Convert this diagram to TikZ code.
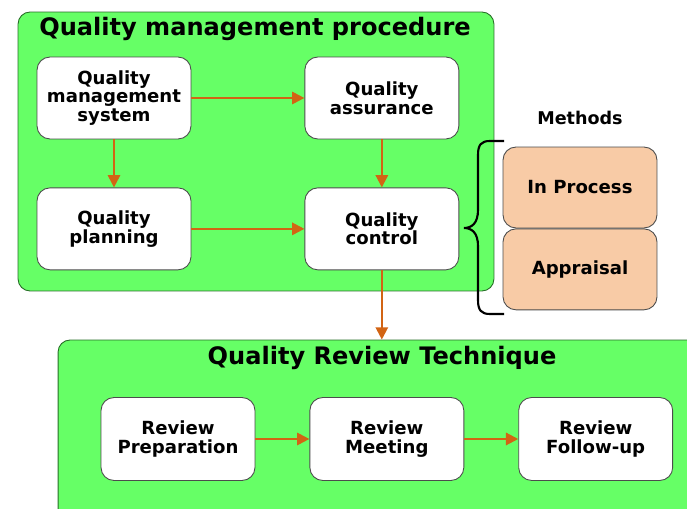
\documentclass[tikz,border=0pt]{standalone}
\usepackage{fontspec}
\setmainfont{DejaVu Sans}
\usepackage{tikz}
\usetikzlibrary{positioning, arrows.meta}
\usepackage{xcolor}
\definecolor{panelgreen}{RGB}{102,255,102}
\definecolor{paneledge}{RGB}{40,110,40}
\definecolor{peach}{RGB}{248,203,166}
\definecolor{floworange}{RGB}{210,100,20}

\begin{document}
\begin{tikzpicture}[
    x=0.02cm, y=-0.02cm,
    node distance=1cm,
    panel/.style={rectangle, draw=paneledge, fill=panelgreen, rounded corners=0.24cm, line width=0.5pt},
    paneltitle/.style={font=\fontsize{13.7}{15}\selectfont\bfseries},
    qbox/.style={rectangle, draw=black!70, fill=white, rounded corners=0.26cm, align=center, font=\fontsize{10.3}{10.6}\selectfont\bfseries, minimum width=3.08cm, minimum height=1.64cm, line width=0.5pt},
    mbox/.style={qbox, fill=peach, minimum height=1.62cm},
    flow/.style={-{Triangle[length=7pt, width=7pt]}, draw=floworange, fill=floworange, line width=1.2pt}
]
    \clip (0,0) rectangle (687,509);

    % Panels
    \node[panel, minimum width=9.52cm, minimum height=5.58cm] (mpanel) at (256,151.5) {};
    \node[panel, minimum width=13.24cm, minimum height=4cm] (rpanel) at (389,440) {};
    \node[paneltitle] (mtitle) at (255,29) {Quality management procedure};
    \node[paneltitle] (rtitle) at (382,358) {Quality Review Technique};

    % Quality management procedure
    \node[qbox] (qms) at (114,98) {Quality\\management\\system};
    \node[qbox, right=2.26cm of qms] (qa) {Quality\\assurance};
    \node[qbox, below=0.96cm of qms] (qp) {Quality\\planning};
    \node[qbox, below=0.96cm of qa] (qc) {Quality\\control};

    % Methods
    \node[font=\fontsize{10}{12}\selectfont\bfseries] (methods) at (580,118) {Methods};
    \node[mbox] (inproc) at (580,187.5) {In Process};
    \node[mbox, below=0cm of inproc] (appr) {Appraisal};
    \draw[line width=1.2pt]
        (504,141) -- (490,141) .. controls (481,141) and (478,145) .. (478,155)
        -- (478,210) .. controls (478,223) and (472,228) .. (464,228)
        .. controls (472,228) and (478,233) .. (478,246)
        -- (478,300) .. controls (478,310) and (481,314) .. (490,314) -- (504,314);

    % Quality Review Technique
    \node[qbox, minimum height=1.66cm] (rprep) at (178,439) {Review\\Preparation};
    \node[qbox, minimum height=1.66cm, right=1.08cm of rprep] (rmeet) {Review\\Meeting};
    \node[qbox, minimum height=1.66cm, right=1.08cm of rmeet] (rfollow) {Review\\Follow-up};

    % Arrows
    \draw[flow] (qms) -- (qa);
    \draw[flow] (qms) -- (qp);
    \draw[flow] (qa) -- (qc);
    \draw[flow] (qp) -- (qc);
    \draw[flow] (qc.south) -- (qc.south |- rpanel.north);
    \draw[flow] (rprep) -- (rmeet);
    \draw[flow] (rmeet) -- (rfollow);
\end{tikzpicture}
\end{document}
